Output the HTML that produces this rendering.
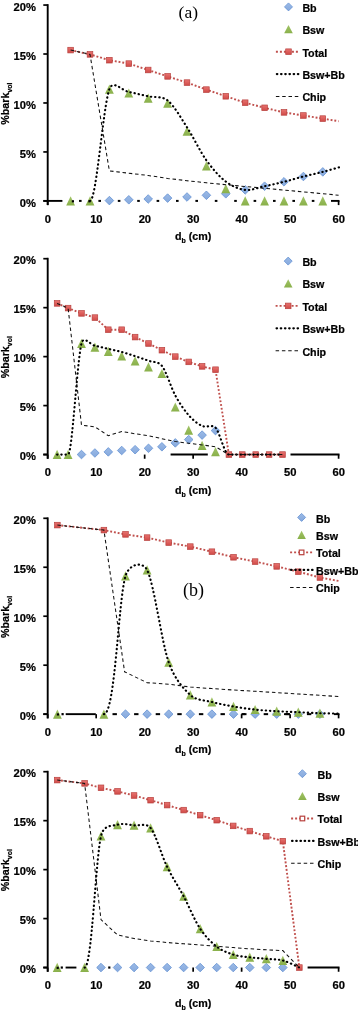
<!DOCTYPE html>
<html><head><meta charset="utf-8"><style>
html,body{margin:0;padding:0;background:#fff;width:358px;height:1010px;overflow:hidden;}
svg{display:block;will-change:transform;}
</style></head><body>
<svg width="358" height="1010" viewBox="0 0 358 1010">
<defs>
<linearGradient id="gS" x1="0" y1="0" x2="0" y2="1"><stop offset="0" stop-color="#E87370"/><stop offset="1" stop-color="#D04A47"/></linearGradient>
<linearGradient id="gT" x1="0" y1="0" x2="0" y2="1"><stop offset="0" stop-color="#A2C468"/><stop offset="1" stop-color="#89B04A"/></linearGradient>
<linearGradient id="gD" x1="0" y1="0" x2="0" y2="1"><stop offset="0" stop-color="#9BBAE6"/><stop offset="1" stop-color="#86A9DD"/></linearGradient>
</defs>
<line x1="43.3" y1="200.9" x2="62.4" y2="200.9" stroke="#000" stroke-width="1.9"/>
<rect x="79" y="199.9" width="2.6" height="2" fill="#000"/>
<rect x="98.4" y="199.9" width="2.6" height="2" fill="#000"/>
<rect x="117.8" y="199.9" width="2.6" height="2" fill="#000"/>
<rect x="137.2" y="199.9" width="2.6" height="2" fill="#000"/>
<rect x="156.6" y="199.9" width="2.6" height="2" fill="#000"/>
<rect x="176" y="199.9" width="2.6" height="2" fill="#000"/>
<rect x="195.4" y="199.9" width="2.6" height="2" fill="#000"/>
<rect x="214.8" y="199.9" width="2.6" height="2" fill="#000"/>
<rect x="234.2" y="199.9" width="2.6" height="2" fill="#000"/>
<rect x="253.6" y="199.9" width="2.6" height="2" fill="#000"/>
<rect x="273" y="199.9" width="2.6" height="2" fill="#000"/>
<rect x="292.4" y="199.9" width="2.6" height="2" fill="#000"/>
<rect x="311.8" y="199.9" width="2.6" height="2" fill="#000"/>
<line x1="331" y1="200.9" x2="339.5" y2="200.9" stroke="#000" stroke-width="1.9"/>
<line x1="47.7" y1="200.9" x2="47.7" y2="205.1" stroke="#000" stroke-width="1.7"/>
<line x1="338.6" y1="200.9" x2="338.6" y2="205.1" stroke="#000" stroke-width="1.7"/>
<path d="M109.4,196.3 L113.7,200.6 L109.4,204.9 L105.1,200.6 Z" fill="url(#gD)" stroke="#6592D3" stroke-width="0.8"/>
<path d="M128.8,195.5 L133.1,199.8 L128.8,204.1 L124.5,199.8 Z" fill="url(#gD)" stroke="#6592D3" stroke-width="0.8"/>
<path d="M148.2,194.7 L152.5,199 L148.2,203.3 L143.9,199 Z" fill="url(#gD)" stroke="#6592D3" stroke-width="0.8"/>
<path d="M167.6,193.8 L171.9,198.1 L167.6,202.4 L163.3,198.1 Z" fill="url(#gD)" stroke="#6592D3" stroke-width="0.8"/>
<path d="M187,192.7 L191.3,197 L187,201.3 L182.7,197 Z" fill="url(#gD)" stroke="#6592D3" stroke-width="0.8"/>
<path d="M206.4,191 L210.7,195.3 L206.4,199.6 L202.1,195.3 Z" fill="url(#gD)" stroke="#6592D3" stroke-width="0.8"/>
<path d="M225.8,189.5 L230.1,193.8 L225.8,198.1 L221.5,193.8 Z" fill="url(#gD)" stroke="#6592D3" stroke-width="0.8"/>
<path d="M245.2,185.6 L249.5,189.9 L245.2,194.2 L240.9,189.9 Z" fill="url(#gD)" stroke="#6592D3" stroke-width="0.8"/>
<path d="M264.6,181.9 L268.9,186.2 L264.6,190.5 L260.3,186.2 Z" fill="url(#gD)" stroke="#6592D3" stroke-width="0.8"/>
<path d="M284,177.5 L288.3,181.8 L284,186.1 L279.7,181.8 Z" fill="url(#gD)" stroke="#6592D3" stroke-width="0.8"/>
<path d="M303.4,172.2 L307.7,176.5 L303.4,180.8 L299.1,176.5 Z" fill="url(#gD)" stroke="#6592D3" stroke-width="0.8"/>
<path d="M322.8,167.6 L327.1,171.9 L322.8,176.2 L318.5,171.9 Z" fill="url(#gD)" stroke="#6592D3" stroke-width="0.8"/>
<path d="M70.6,196.21 L75,205.41 L66.2,205.41 Z" fill="url(#gT)"/>
<path d="M90,196.21 L94.4,205.41 L85.6,205.41 Z" fill="url(#gT)"/>
<path d="M109.4,84.61 L113.8,93.81 L105,93.81 Z" fill="url(#gT)"/>
<path d="M128.8,88.41 L133.2,97.61 L124.4,97.61 Z" fill="url(#gT)"/>
<path d="M148.2,93.51 L152.6,102.71 L143.8,102.71 Z" fill="url(#gT)"/>
<path d="M167.6,98.51 L172,107.71 L163.2,107.71 Z" fill="url(#gT)"/>
<path d="M187,126.51 L191.4,135.71 L182.6,135.71 Z" fill="url(#gT)"/>
<path d="M206.4,161.21 L210.8,170.41 L202,170.41 Z" fill="url(#gT)"/>
<path d="M225.8,184.01 L230.2,193.21 L221.4,193.21 Z" fill="url(#gT)"/>
<path d="M245.2,196.21 L249.6,205.41 L240.8,205.41 Z" fill="url(#gT)"/>
<path d="M264.6,196.21 L269,205.41 L260.2,205.41 Z" fill="url(#gT)"/>
<path d="M284,196.21 L288.4,205.41 L279.6,205.41 Z" fill="url(#gT)"/>
<path d="M303.4,196.21 L307.8,205.41 L299,205.41 Z" fill="url(#gT)"/>
<path d="M322.8,196.21 L327.2,205.41 L318.4,205.41 Z" fill="url(#gT)"/>
<path d="M70.6,50.1 L90,54.4 L109.4,60.2 L128.8,63.6 L148.2,70 L167.6,76.4 L187,82.6 L206.4,89.6 L225.8,96.3 L245.2,102.7 L264.6,107.8 L284,112.4 L303.4,115.5 L322.8,118.6 L338.6,121.2" fill="none" stroke="#C0504D" stroke-width="1.9" stroke-dasharray="1.9,1.9"/>
<rect x="67.8" y="47.3" width="5.6" height="5.6" fill="url(#gS)" stroke="#B8413E" stroke-width="0.7"/>
<rect x="87.2" y="51.6" width="5.6" height="5.6" fill="url(#gS)" stroke="#B8413E" stroke-width="0.7"/>
<rect x="106.6" y="57.4" width="5.6" height="5.6" fill="url(#gS)" stroke="#B8413E" stroke-width="0.7"/>
<rect x="126" y="60.8" width="5.6" height="5.6" fill="url(#gS)" stroke="#B8413E" stroke-width="0.7"/>
<rect x="145.4" y="67.2" width="5.6" height="5.6" fill="url(#gS)" stroke="#B8413E" stroke-width="0.7"/>
<rect x="164.8" y="73.6" width="5.6" height="5.6" fill="url(#gS)" stroke="#B8413E" stroke-width="0.7"/>
<rect x="184.2" y="79.8" width="5.6" height="5.6" fill="url(#gS)" stroke="#B8413E" stroke-width="0.7"/>
<rect x="203.6" y="86.8" width="5.6" height="5.6" fill="url(#gS)" stroke="#B8413E" stroke-width="0.7"/>
<rect x="223" y="93.5" width="5.6" height="5.6" fill="url(#gS)" stroke="#B8413E" stroke-width="0.7"/>
<rect x="242.4" y="99.9" width="5.6" height="5.6" fill="url(#gS)" stroke="#B8413E" stroke-width="0.7"/>
<rect x="261.8" y="105" width="5.6" height="5.6" fill="url(#gS)" stroke="#B8413E" stroke-width="0.7"/>
<rect x="281.2" y="109.6" width="5.6" height="5.6" fill="url(#gS)" stroke="#B8413E" stroke-width="0.7"/>
<rect x="300.6" y="112.7" width="5.6" height="5.6" fill="url(#gS)" stroke="#B8413E" stroke-width="0.7"/>
<rect x="320" y="115.8" width="5.6" height="5.6" fill="url(#gS)" stroke="#B8413E" stroke-width="0.7"/>
<path d="M90,200.9 C96.47,200.9 102.93,107.15 109.4,89 C112.91,79.15 122.35,90.79 128.8,92 C135.27,93.22 141.73,94.9 148.2,96.3 C154.66,97.7 162.01,95.93 167.6,100.4 C174.07,105.57 180.77,117.68 187,127.3 C193.47,137.28 199.93,151.25 206.4,160.3 C212.39,168.69 219.33,176.67 225.8,181.6 C231.75,186.14 238.73,189.13 245.2,189.9 C251.56,190.65 258.15,187.55 264.6,186.2 C271.07,184.85 277.55,183.41 284,181.8 C290.47,180.18 296.93,178.15 303.4,176.5 C309.85,174.85 316.78,173.45 322.8,171.9 C328.6,170.4 336.72,167.98 339.5,167.2" fill="none" stroke="#000" stroke-width="2.15" stroke-linecap="round" stroke-dasharray="0.35,3.85"/>
<path d="M70.6,50.1 L90,54.4 L109.4,170.9 L128.8,173.2 L148.2,175.5 L167.6,178.4 L187,180.7 L206.4,182.8 L225.8,184.7 L245.2,186.5 L264.6,188.3 L284,190.1 L303.4,191.9 L322.8,193.7 L338.6,195.2" fill="none" stroke="#111" stroke-width="1.05" stroke-dasharray="3.5,2.8"/>
<rect x="71.8" y="200.2" width="2.2" height="2.2" fill="#000"/>
<rect x="88.3" y="200.2" width="2.2" height="2.2" fill="#000"/>
<line x1="47.7" y1="4.15" x2="47.7" y2="205.1" stroke="#000" stroke-width="1.9"/>
<line x1="43.3" y1="5.05" x2="47.7" y2="5.05" stroke="#000" stroke-width="1.7"/>
<text x="36" y="10.65" text-anchor="end" font-family="Liberation Sans, sans-serif" font-weight="bold" stroke="#000" stroke-width="0.22" font-size="11.2">20%</text>
<line x1="43.3" y1="54.01" x2="47.7" y2="54.01" stroke="#000" stroke-width="1.7"/>
<text x="36" y="59.61" text-anchor="end" font-family="Liberation Sans, sans-serif" font-weight="bold" stroke="#000" stroke-width="0.22" font-size="11.2">15%</text>
<line x1="43.3" y1="102.97" x2="47.7" y2="102.97" stroke="#000" stroke-width="1.7"/>
<text x="36" y="108.57" text-anchor="end" font-family="Liberation Sans, sans-serif" font-weight="bold" stroke="#000" stroke-width="0.22" font-size="11.2">10%</text>
<line x1="43.3" y1="151.94" x2="47.7" y2="151.94" stroke="#000" stroke-width="1.7"/>
<text x="36" y="157.54" text-anchor="end" font-family="Liberation Sans, sans-serif" font-weight="bold" stroke="#000" stroke-width="0.22" font-size="11.2">5%</text>
<line x1="43.3" y1="200.9" x2="47.7" y2="200.9" stroke="#000" stroke-width="1.7"/>
<text x="36" y="206.5" text-anchor="end" font-family="Liberation Sans, sans-serif" font-weight="bold" stroke="#000" stroke-width="0.22" font-size="11.2">0%</text>
<text x="47.9" y="222.7" text-anchor="middle" font-family="Liberation Sans, sans-serif" font-weight="bold" stroke="#000" stroke-width="0.22" font-size="11.2">0</text>
<text x="96.38" y="222.7" text-anchor="middle" font-family="Liberation Sans, sans-serif" font-weight="bold" stroke="#000" stroke-width="0.22" font-size="11.2">10</text>
<text x="144.87" y="222.7" text-anchor="middle" font-family="Liberation Sans, sans-serif" font-weight="bold" stroke="#000" stroke-width="0.22" font-size="11.2">20</text>
<text x="193.35" y="222.7" text-anchor="middle" font-family="Liberation Sans, sans-serif" font-weight="bold" stroke="#000" stroke-width="0.22" font-size="11.2">30</text>
<text x="241.83" y="222.7" text-anchor="middle" font-family="Liberation Sans, sans-serif" font-weight="bold" stroke="#000" stroke-width="0.22" font-size="11.2">40</text>
<text x="290.32" y="222.7" text-anchor="middle" font-family="Liberation Sans, sans-serif" font-weight="bold" stroke="#000" stroke-width="0.22" font-size="11.2">50</text>
<text x="338.8" y="222.7" text-anchor="middle" font-family="Liberation Sans, sans-serif" font-weight="bold" stroke="#000" stroke-width="0.22" font-size="11.2">60</text>
<text x="175" y="239.9" font-family="Liberation Sans, sans-serif" font-weight="bold" stroke="#000" stroke-width="0.22" font-size="10.7">d<tspan font-size="7" dy="3">b</tspan><tspan dy="-3"> (cm)</tspan></text>
<text transform="translate(8.7,103.57) rotate(-90)" text-anchor="middle" font-family="Liberation Sans, sans-serif" font-weight="bold" stroke="#000" stroke-width="0.22" font-size="10.7">%bark<tspan font-size="7" dy="3.2">vol</tspan></text>
<path d="M288.5,2.9 L292.5,6.9 L288.5,10.9 L284.5,6.9 Z" fill="url(#gD)" stroke="#6592D3" stroke-width="0.8"/>
<path d="M288.5,25.12 L292.8,33.32 L284.2,33.32 Z" fill="url(#gT)"/>
<line x1="275.9" y1="51.7" x2="298.3" y2="51.7" stroke="#C0504D" stroke-width="1.9" stroke-dasharray="2,2"/>
<rect x="285.7" y="48.9" width="5.6" height="5.6" fill="url(#gS)" stroke="#B8413E" stroke-width="0.7"/>
<line x1="276.9" y1="74.1" x2="298.3" y2="74.1" stroke="#000" stroke-width="2.3" stroke-linecap="round" stroke-dasharray="0.4,3.8"/>
<line x1="275.9" y1="96.5" x2="298.3" y2="96.5" stroke="#111" stroke-width="1.05" stroke-dasharray="3.5,2.8"/>
<text x="302.4" y="12.1" font-family="Liberation Sans, sans-serif" font-weight="bold" stroke="#000" stroke-width="0.22" font-size="10.7">Bb</text>
<text x="302.4" y="34.1" font-family="Liberation Sans, sans-serif" font-weight="bold" stroke="#000" stroke-width="0.22" font-size="10.7">Bsw</text>
<text x="302.4" y="56.5" font-family="Liberation Sans, sans-serif" font-weight="bold" stroke="#000" stroke-width="0.22" font-size="10.7">Total</text>
<text x="302.4" y="78.9" font-family="Liberation Sans, sans-serif" font-weight="bold" stroke="#000" stroke-width="0.22" font-size="10.7">Bsw+Bb</text>
<text x="302.4" y="101.3" font-family="Liberation Sans, sans-serif" font-weight="bold" stroke="#000" stroke-width="0.22" font-size="10.7">Chip</text>
<text x="178.6" y="17.7" font-family="Liberation Serif, serif" font-size="17.5">(a)</text>
<line x1="43.3" y1="454.55" x2="47.7" y2="454.55" stroke="#000" stroke-width="1.9"/>
<line x1="170.6" y1="454.55" x2="207.8" y2="454.55" stroke="#000" stroke-width="1.9"/>
<line x1="290.5" y1="454.55" x2="339.5" y2="454.55" stroke="#000" stroke-width="1.9"/>
<line x1="47.7" y1="454.55" x2="47.7" y2="458.75" stroke="#000" stroke-width="1.7"/>
<line x1="144.67" y1="454.55" x2="144.67" y2="458.75" stroke="#000" stroke-width="1.7"/>
<line x1="193.15" y1="454.55" x2="193.15" y2="458.75" stroke="#000" stroke-width="1.7"/>
<line x1="338.6" y1="454.55" x2="338.6" y2="458.75" stroke="#000" stroke-width="1.7"/>
<path d="M81.5,450.25 L85.8,454.55 L81.5,458.85 L77.2,454.55 Z" fill="url(#gD)" stroke="#6592D3" stroke-width="0.8"/>
<path d="M94.9,448.7 L99.2,453 L94.9,457.3 L90.6,453 Z" fill="url(#gD)" stroke="#6592D3" stroke-width="0.8"/>
<path d="M108.3,447.6 L112.6,451.9 L108.3,456.2 L104,451.9 Z" fill="url(#gD)" stroke="#6592D3" stroke-width="0.8"/>
<path d="M121.7,446.2 L126,450.5 L121.7,454.8 L117.4,450.5 Z" fill="url(#gD)" stroke="#6592D3" stroke-width="0.8"/>
<path d="M135.1,445.4 L139.4,449.7 L135.1,454 L130.8,449.7 Z" fill="url(#gD)" stroke="#6592D3" stroke-width="0.8"/>
<path d="M148.5,444 L152.8,448.3 L148.5,452.6 L144.2,448.3 Z" fill="url(#gD)" stroke="#6592D3" stroke-width="0.8"/>
<path d="M161.9,442.5 L166.2,446.8 L161.9,451.1 L157.6,446.8 Z" fill="url(#gD)" stroke="#6592D3" stroke-width="0.8"/>
<path d="M175.3,438.6 L179.6,442.9 L175.3,447.2 L171,442.9 Z" fill="url(#gD)" stroke="#6592D3" stroke-width="0.8"/>
<path d="M188.7,435.3 L193,439.6 L188.7,443.9 L184.4,439.6 Z" fill="url(#gD)" stroke="#6592D3" stroke-width="0.8"/>
<path d="M202.1,430.8 L206.4,435.1 L202.1,439.4 L197.8,435.1 Z" fill="url(#gD)" stroke="#6592D3" stroke-width="0.8"/>
<path d="M215.5,426.3 L219.8,430.6 L215.5,434.9 L211.2,430.6 Z" fill="url(#gD)" stroke="#6592D3" stroke-width="0.8"/>
<path d="M57.1,449.86 L61.5,459.06 L52.7,459.06 Z" fill="url(#gT)"/>
<path d="M68.1,449.86 L72.5,459.06 L63.7,459.06 Z" fill="url(#gT)"/>
<path d="M81.5,338.71 L85.9,347.91 L77.1,347.91 Z" fill="url(#gT)"/>
<path d="M94.9,342.61 L99.3,351.81 L90.5,351.81 Z" fill="url(#gT)"/>
<path d="M108.3,346.81 L112.7,356.01 L103.9,356.01 Z" fill="url(#gT)"/>
<path d="M121.7,351.31 L126.1,360.51 L117.3,360.51 Z" fill="url(#gT)"/>
<path d="M135.1,356.31 L139.5,365.51 L130.7,365.51 Z" fill="url(#gT)"/>
<path d="M148.5,362.31 L152.9,371.51 L144.1,371.51 Z" fill="url(#gT)"/>
<path d="M161.9,368.91 L166.3,378.11 L157.5,378.11 Z" fill="url(#gT)"/>
<path d="M175.3,402.41 L179.7,411.61 L170.9,411.61 Z" fill="url(#gT)"/>
<path d="M188.7,425.51 L193.1,434.71 L184.3,434.71 Z" fill="url(#gT)"/>
<path d="M202.1,440.71 L206.5,449.91 L197.7,449.91 Z" fill="url(#gT)"/>
<path d="M215.5,447.01 L219.9,456.21 L211.1,456.21 Z" fill="url(#gT)"/>
<path d="M57.1,303.4 L68.1,308.1 L81.5,313.4 L94.9,317.6 L108.3,329.7 L121.7,329.7 L135.1,337.1 L148.5,343.5 L161.9,350.2 L175.3,356.6 L188.7,361.9 L202.1,366.4 L215.5,369.7 L228.9,454.55 L242.3,454.55 L255.7,454.55 L269.1,454.55 L282.5,454.55" fill="none" stroke="#C0504D" stroke-width="1.9" stroke-dasharray="1.9,1.9"/>
<rect x="54.3" y="300.6" width="5.6" height="5.6" fill="url(#gS)" stroke="#B8413E" stroke-width="0.7"/>
<rect x="65.3" y="305.3" width="5.6" height="5.6" fill="url(#gS)" stroke="#B8413E" stroke-width="0.7"/>
<rect x="78.7" y="310.6" width="5.6" height="5.6" fill="url(#gS)" stroke="#B8413E" stroke-width="0.7"/>
<rect x="92.1" y="314.8" width="5.6" height="5.6" fill="url(#gS)" stroke="#B8413E" stroke-width="0.7"/>
<rect x="105.5" y="326.9" width="5.6" height="5.6" fill="url(#gS)" stroke="#B8413E" stroke-width="0.7"/>
<rect x="118.9" y="326.9" width="5.6" height="5.6" fill="url(#gS)" stroke="#B8413E" stroke-width="0.7"/>
<rect x="132.3" y="334.3" width="5.6" height="5.6" fill="url(#gS)" stroke="#B8413E" stroke-width="0.7"/>
<rect x="145.7" y="340.7" width="5.6" height="5.6" fill="url(#gS)" stroke="#B8413E" stroke-width="0.7"/>
<rect x="159.1" y="347.4" width="5.6" height="5.6" fill="url(#gS)" stroke="#B8413E" stroke-width="0.7"/>
<rect x="172.5" y="353.8" width="5.6" height="5.6" fill="url(#gS)" stroke="#B8413E" stroke-width="0.7"/>
<rect x="185.9" y="359.1" width="5.6" height="5.6" fill="url(#gS)" stroke="#B8413E" stroke-width="0.7"/>
<rect x="199.3" y="363.6" width="5.6" height="5.6" fill="url(#gS)" stroke="#B8413E" stroke-width="0.7"/>
<rect x="212.7" y="366.9" width="5.6" height="5.6" fill="url(#gS)" stroke="#B8413E" stroke-width="0.7"/>
<rect x="226.1" y="451.75" width="5.6" height="5.6" fill="url(#gS)" stroke="#B8413E" stroke-width="0.7"/>
<rect x="239.5" y="451.75" width="5.6" height="5.6" fill="url(#gS)" stroke="#B8413E" stroke-width="0.7"/>
<rect x="252.9" y="451.75" width="5.6" height="5.6" fill="url(#gS)" stroke="#B8413E" stroke-width="0.7"/>
<rect x="266.3" y="451.75" width="5.6" height="5.6" fill="url(#gS)" stroke="#B8413E" stroke-width="0.7"/>
<rect x="279.7" y="451.75" width="5.6" height="5.6" fill="url(#gS)" stroke="#B8413E" stroke-width="0.7"/>
<path d="M57.1,454.55 L68.1,454.55 C72.17,454.55 77.03,361.53 81.5,343.4 C83.58,334.96 90.45,344.84 94.9,345.75 C99.37,346.66 103.83,347.82 108.3,348.85 C112.77,349.88 117.26,350.74 121.7,351.95 C126.17,353.17 130.64,354.69 135.1,356.15 C139.57,357.62 144.05,359.14 148.5,360.75 C152.97,362.37 158.4,361.32 161.9,365.85 C166.37,371.63 170.83,387.22 175.3,395.45 C179.41,403.03 184.23,410.17 188.7,415.25 C192.78,419.9 197.63,423.87 202.1,425.95 C206.29,427.91 211.98,423.99 215.5,427.75 C219.97,432.52 224.43,454.55 228.9,454.55 L242.3,454.55 L255.7,454.55 L269.1,454.55 L282.5,454.55" fill="none" stroke="#000" stroke-width="2.15" stroke-linecap="round" stroke-dasharray="0.35,3.85"/>
<path d="M57.1,303.4 L68.1,308.1 L81.5,425.1 L94.9,426.8 L108.3,435.7 L121.7,431.5 L135.1,433.8 L148.5,435.7 L161.9,438.7 L175.3,441.5 L188.7,443.3 L202.1,444.9 L215.5,446.8 L228.9,454.55 L242.3,454.55 L255.7,454.55 L269.1,454.55 L282.5,454.55" fill="none" stroke="#111" stroke-width="1.05" stroke-dasharray="3.5,2.8"/>
<line x1="47.7" y1="257.8" x2="47.7" y2="458.75" stroke="#000" stroke-width="1.9"/>
<line x1="43.3" y1="258.7" x2="47.7" y2="258.7" stroke="#000" stroke-width="1.7"/>
<text x="36" y="264.3" text-anchor="end" font-family="Liberation Sans, sans-serif" font-weight="bold" stroke="#000" stroke-width="0.22" font-size="11.2">20%</text>
<line x1="43.3" y1="307.66" x2="47.7" y2="307.66" stroke="#000" stroke-width="1.7"/>
<text x="36" y="313.26" text-anchor="end" font-family="Liberation Sans, sans-serif" font-weight="bold" stroke="#000" stroke-width="0.22" font-size="11.2">15%</text>
<line x1="43.3" y1="356.62" x2="47.7" y2="356.62" stroke="#000" stroke-width="1.7"/>
<text x="36" y="362.23" text-anchor="end" font-family="Liberation Sans, sans-serif" font-weight="bold" stroke="#000" stroke-width="0.22" font-size="11.2">10%</text>
<line x1="43.3" y1="405.59" x2="47.7" y2="405.59" stroke="#000" stroke-width="1.7"/>
<text x="36" y="411.19" text-anchor="end" font-family="Liberation Sans, sans-serif" font-weight="bold" stroke="#000" stroke-width="0.22" font-size="11.2">5%</text>
<line x1="43.3" y1="454.55" x2="47.7" y2="454.55" stroke="#000" stroke-width="1.7"/>
<text x="36" y="460.15" text-anchor="end" font-family="Liberation Sans, sans-serif" font-weight="bold" stroke="#000" stroke-width="0.22" font-size="11.2">0%</text>
<text x="47.9" y="476.35" text-anchor="middle" font-family="Liberation Sans, sans-serif" font-weight="bold" stroke="#000" stroke-width="0.22" font-size="11.2">0</text>
<text x="96.38" y="476.35" text-anchor="middle" font-family="Liberation Sans, sans-serif" font-weight="bold" stroke="#000" stroke-width="0.22" font-size="11.2">10</text>
<text x="144.87" y="476.35" text-anchor="middle" font-family="Liberation Sans, sans-serif" font-weight="bold" stroke="#000" stroke-width="0.22" font-size="11.2">20</text>
<text x="193.35" y="476.35" text-anchor="middle" font-family="Liberation Sans, sans-serif" font-weight="bold" stroke="#000" stroke-width="0.22" font-size="11.2">30</text>
<text x="241.83" y="476.35" text-anchor="middle" font-family="Liberation Sans, sans-serif" font-weight="bold" stroke="#000" stroke-width="0.22" font-size="11.2">40</text>
<text x="290.32" y="476.35" text-anchor="middle" font-family="Liberation Sans, sans-serif" font-weight="bold" stroke="#000" stroke-width="0.22" font-size="11.2">50</text>
<text x="338.8" y="476.35" text-anchor="middle" font-family="Liberation Sans, sans-serif" font-weight="bold" stroke="#000" stroke-width="0.22" font-size="11.2">60</text>
<text x="175" y="493.55" font-family="Liberation Sans, sans-serif" font-weight="bold" stroke="#000" stroke-width="0.22" font-size="10.7">d<tspan font-size="7" dy="3">b</tspan><tspan dy="-3"> (cm)</tspan></text>
<text transform="translate(8.7,357.23) rotate(-90)" text-anchor="middle" font-family="Liberation Sans, sans-serif" font-weight="bold" stroke="#000" stroke-width="0.22" font-size="10.7">%bark<tspan font-size="7" dy="3.2">vol</tspan></text>
<path d="M288.2,257.1 L292.2,261.1 L288.2,265.1 L284.2,261.1 Z" fill="url(#gD)" stroke="#6592D3" stroke-width="0.8"/>
<path d="M288.2,279.32 L292.5,287.52 L283.9,287.52 Z" fill="url(#gT)"/>
<line x1="275.6" y1="305.9" x2="298" y2="305.9" stroke="#C0504D" stroke-width="1.9" stroke-dasharray="2,2"/>
<rect x="285.4" y="303.1" width="5.6" height="5.6" fill="url(#gS)" stroke="#B8413E" stroke-width="0.7"/>
<line x1="276.6" y1="328.3" x2="298" y2="328.3" stroke="#000" stroke-width="2.3" stroke-linecap="round" stroke-dasharray="0.4,3.8"/>
<line x1="275.6" y1="350.7" x2="298" y2="350.7" stroke="#111" stroke-width="1.05" stroke-dasharray="3.5,2.8"/>
<text x="302.4" y="266.3" font-family="Liberation Sans, sans-serif" font-weight="bold" stroke="#000" stroke-width="0.22" font-size="10.7">Bb</text>
<text x="302.4" y="288.3" font-family="Liberation Sans, sans-serif" font-weight="bold" stroke="#000" stroke-width="0.22" font-size="10.7">Bsw</text>
<text x="302.4" y="310.7" font-family="Liberation Sans, sans-serif" font-weight="bold" stroke="#000" stroke-width="0.22" font-size="10.7">Total</text>
<text x="302.4" y="333.1" font-family="Liberation Sans, sans-serif" font-weight="bold" stroke="#000" stroke-width="0.22" font-size="10.7">Bsw+Bb</text>
<text x="302.4" y="355.5" font-family="Liberation Sans, sans-serif" font-weight="bold" stroke="#000" stroke-width="0.22" font-size="10.7">Chip</text>
<line x1="43.3" y1="714.15" x2="47.7" y2="714.15" stroke="#000" stroke-width="1.9"/>
<rect x="61.5" y="713.05" width="2.2" height="2.2" fill="#000"/>
<line x1="65.7" y1="714.15" x2="95.8" y2="714.15" stroke="#000" stroke-width="1.9"/>
<rect x="112.5" y="713.15" width="4.4" height="2" fill="#000"/>
<rect x="134.1" y="713.15" width="4.4" height="2" fill="#000"/>
<rect x="155.7" y="713.15" width="4.4" height="2" fill="#000"/>
<rect x="177.3" y="713.15" width="4.4" height="2" fill="#000"/>
<rect x="198.9" y="713.15" width="4.4" height="2" fill="#000"/>
<rect x="220.5" y="713.15" width="4.4" height="2" fill="#000"/>
<rect x="242.1" y="713.15" width="4.4" height="2" fill="#000"/>
<rect x="263.7" y="713.15" width="4.4" height="2" fill="#000"/>
<rect x="285.3" y="713.15" width="4.4" height="2" fill="#000"/>
<rect x="306.9" y="713.15" width="4.4" height="2" fill="#000"/>
<line x1="241.4" y1="714.15" x2="245" y2="714.15" stroke="#000" stroke-width="1.9"/>
<line x1="284" y1="714.15" x2="289.9" y2="714.15" stroke="#000" stroke-width="1.9"/>
<line x1="334" y1="714.15" x2="339.5" y2="714.15" stroke="#000" stroke-width="1.9"/>
<line x1="47.7" y1="714.15" x2="47.7" y2="718.35" stroke="#000" stroke-width="1.7"/>
<line x1="96.18" y1="714.15" x2="96.18" y2="718.35" stroke="#000" stroke-width="1.7"/>
<line x1="241.63" y1="714.15" x2="241.63" y2="718.35" stroke="#000" stroke-width="1.7"/>
<line x1="290.12" y1="714.15" x2="290.12" y2="718.35" stroke="#000" stroke-width="1.7"/>
<line x1="338.6" y1="714.15" x2="338.6" y2="718.35" stroke="#000" stroke-width="1.7"/>
<path d="M125.5,709.85 L129.8,714.15 L125.5,718.45 L121.2,714.15 Z" fill="url(#gD)" stroke="#6592D3" stroke-width="0.8"/>
<path d="M147.1,709.85 L151.4,714.15 L147.1,718.45 L142.8,714.15 Z" fill="url(#gD)" stroke="#6592D3" stroke-width="0.8"/>
<path d="M168.7,709.85 L173,714.15 L168.7,718.45 L164.4,714.15 Z" fill="url(#gD)" stroke="#6592D3" stroke-width="0.8"/>
<path d="M190.3,709.85 L194.6,714.15 L190.3,718.45 L186,714.15 Z" fill="url(#gD)" stroke="#6592D3" stroke-width="0.8"/>
<path d="M211.9,709.85 L216.2,714.15 L211.9,718.45 L207.6,714.15 Z" fill="url(#gD)" stroke="#6592D3" stroke-width="0.8"/>
<path d="M233.5,709.85 L237.8,714.15 L233.5,718.45 L229.2,714.15 Z" fill="url(#gD)" stroke="#6592D3" stroke-width="0.8"/>
<path d="M255.1,709.85 L259.4,714.15 L255.1,718.45 L250.8,714.15 Z" fill="url(#gD)" stroke="#6592D3" stroke-width="0.8"/>
<path d="M276.7,709.85 L281,714.15 L276.7,718.45 L272.4,714.15 Z" fill="url(#gD)" stroke="#6592D3" stroke-width="0.8"/>
<path d="M298.3,709.85 L302.6,714.15 L298.3,718.45 L294,714.15 Z" fill="url(#gD)" stroke="#6592D3" stroke-width="0.8"/>
<path d="M319.9,709.85 L324.2,714.15 L319.9,718.45 L315.6,714.15 Z" fill="url(#gD)" stroke="#6592D3" stroke-width="0.8"/>
<path d="M57.4,709.46 L61.8,718.66 L53,718.66 Z" fill="url(#gT)"/>
<path d="M103.9,709.46 L108.3,718.66 L99.5,718.66 Z" fill="url(#gT)"/>
<path d="M125.5,571.31 L129.9,580.51 L121.1,580.51 Z" fill="url(#gT)"/>
<path d="M147.1,565.31 L151.5,574.51 L142.7,574.51 Z" fill="url(#gT)"/>
<path d="M168.7,657.61 L173.1,666.81 L164.3,666.81 Z" fill="url(#gT)"/>
<path d="M190.3,690.31 L194.7,699.51 L185.9,699.51 Z" fill="url(#gT)"/>
<path d="M211.9,697.31 L216.3,706.51 L207.5,706.51 Z" fill="url(#gT)"/>
<path d="M233.5,701.81 L237.9,711.01 L229.1,711.01 Z" fill="url(#gT)"/>
<path d="M255.1,704.91 L259.5,714.11 L250.7,714.11 Z" fill="url(#gT)"/>
<path d="M276.7,706.51 L281.1,715.71 L272.3,715.71 Z" fill="url(#gT)"/>
<path d="M298.3,707.51 L302.7,716.71 L293.9,716.71 Z" fill="url(#gT)"/>
<path d="M319.9,708.51 L324.3,717.71 L315.5,717.71 Z" fill="url(#gT)"/>
<path d="M57.4,525.1 L103.9,530.1 L125.5,534.4 L147.1,537.6 L168.7,542.6 L190.3,546.6 L211.9,551.7 L233.5,557.3 L255.1,561.6 L276.7,566.4 L298.3,571.7 L319.9,577.5 L339.5,581.1" fill="none" stroke="#C0504D" stroke-width="1.9" stroke-dasharray="1.9,1.9"/>
<rect x="54.6" y="522.3" width="5.6" height="5.6" fill="url(#gS)" stroke="#B8413E" stroke-width="0.7"/>
<rect x="101.1" y="527.3" width="5.6" height="5.6" fill="url(#gS)" stroke="#B8413E" stroke-width="0.7"/>
<rect x="122.7" y="531.6" width="5.6" height="5.6" fill="url(#gS)" stroke="#B8413E" stroke-width="0.7"/>
<rect x="144.3" y="534.8" width="5.6" height="5.6" fill="url(#gS)" stroke="#B8413E" stroke-width="0.7"/>
<rect x="165.9" y="539.8" width="5.6" height="5.6" fill="url(#gS)" stroke="#B8413E" stroke-width="0.7"/>
<rect x="187.5" y="543.8" width="5.6" height="5.6" fill="url(#gS)" stroke="#B8413E" stroke-width="0.7"/>
<rect x="209.1" y="548.9" width="5.6" height="5.6" fill="url(#gS)" stroke="#B8413E" stroke-width="0.7"/>
<rect x="230.7" y="554.5" width="5.6" height="5.6" fill="url(#gS)" stroke="#B8413E" stroke-width="0.7"/>
<rect x="252.3" y="558.8" width="5.6" height="5.6" fill="url(#gS)" stroke="#B8413E" stroke-width="0.7"/>
<rect x="273.9" y="563.6" width="5.6" height="5.6" fill="url(#gS)" stroke="#B8413E" stroke-width="0.7"/>
<rect x="295.5" y="568.9" width="5.6" height="5.6" fill="url(#gS)" stroke="#B8413E" stroke-width="0.7"/>
<rect x="317.1" y="574.7" width="5.6" height="5.6" fill="url(#gS)" stroke="#B8413E" stroke-width="0.7"/>
<path d="M103.9,714.15 C115.25,714.15 118.3,600.03 125.5,576 C129.28,563.37 142.65,561.1 147.1,570 C154.3,584.38 161.5,641.47 168.7,662.3 C174.21,678.23 183.1,688.38 190.3,695 C196.47,700.67 204.7,700.08 211.9,702 C219.05,703.9 226.3,705.23 233.5,706.5 C240.68,707.76 247.9,708.82 255.1,709.6 C262.29,710.38 269.5,710.77 276.7,711.2 C283.9,711.63 291.1,711.87 298.3,712.2 C305.5,712.53 313.03,712.97 319.9,713.2 C326.6,713.43 336.23,713.53 339.5,713.6" fill="none" stroke="#000" stroke-width="2.15" stroke-linecap="round" stroke-dasharray="0.35,3.85"/>
<path d="M57.4,525.1 L103.9,530.1 L124.6,671.8 L147.1,682.7 L168.7,684.2 L190.3,687 L211.9,688.6 L233.5,690 L255.1,691.3 L276.7,692.6 L298.3,694 L319.9,695.3 L339.5,696.6" fill="none" stroke="#111" stroke-width="1.05" stroke-dasharray="3.5,2.8"/>
<rect x="56.8" y="713.35" width="2.2" height="2.2" fill="#000"/>
<line x1="47.7" y1="517.4" x2="47.7" y2="718.35" stroke="#000" stroke-width="1.9"/>
<line x1="43.3" y1="518.3" x2="47.7" y2="518.3" stroke="#000" stroke-width="1.7"/>
<text x="36" y="523.9" text-anchor="end" font-family="Liberation Sans, sans-serif" font-weight="bold" stroke="#000" stroke-width="0.22" font-size="11.2">20%</text>
<line x1="43.3" y1="567.26" x2="47.7" y2="567.26" stroke="#000" stroke-width="1.7"/>
<text x="36" y="572.86" text-anchor="end" font-family="Liberation Sans, sans-serif" font-weight="bold" stroke="#000" stroke-width="0.22" font-size="11.2">15%</text>
<line x1="43.3" y1="616.22" x2="47.7" y2="616.22" stroke="#000" stroke-width="1.7"/>
<text x="36" y="621.82" text-anchor="end" font-family="Liberation Sans, sans-serif" font-weight="bold" stroke="#000" stroke-width="0.22" font-size="11.2">10%</text>
<line x1="43.3" y1="665.19" x2="47.7" y2="665.19" stroke="#000" stroke-width="1.7"/>
<text x="36" y="670.79" text-anchor="end" font-family="Liberation Sans, sans-serif" font-weight="bold" stroke="#000" stroke-width="0.22" font-size="11.2">5%</text>
<line x1="43.3" y1="714.15" x2="47.7" y2="714.15" stroke="#000" stroke-width="1.7"/>
<text x="36" y="719.75" text-anchor="end" font-family="Liberation Sans, sans-serif" font-weight="bold" stroke="#000" stroke-width="0.22" font-size="11.2">0%</text>
<text x="47.9" y="735.95" text-anchor="middle" font-family="Liberation Sans, sans-serif" font-weight="bold" stroke="#000" stroke-width="0.22" font-size="11.2">0</text>
<text x="96.38" y="735.95" text-anchor="middle" font-family="Liberation Sans, sans-serif" font-weight="bold" stroke="#000" stroke-width="0.22" font-size="11.2">10</text>
<text x="144.87" y="735.95" text-anchor="middle" font-family="Liberation Sans, sans-serif" font-weight="bold" stroke="#000" stroke-width="0.22" font-size="11.2">20</text>
<text x="193.35" y="735.95" text-anchor="middle" font-family="Liberation Sans, sans-serif" font-weight="bold" stroke="#000" stroke-width="0.22" font-size="11.2">30</text>
<text x="241.83" y="735.95" text-anchor="middle" font-family="Liberation Sans, sans-serif" font-weight="bold" stroke="#000" stroke-width="0.22" font-size="11.2">40</text>
<text x="290.32" y="735.95" text-anchor="middle" font-family="Liberation Sans, sans-serif" font-weight="bold" stroke="#000" stroke-width="0.22" font-size="11.2">50</text>
<text x="338.8" y="735.95" text-anchor="middle" font-family="Liberation Sans, sans-serif" font-weight="bold" stroke="#000" stroke-width="0.22" font-size="11.2">60</text>
<text x="175" y="753.15" font-family="Liberation Sans, sans-serif" font-weight="bold" stroke="#000" stroke-width="0.22" font-size="10.7">d<tspan font-size="7" dy="3">b</tspan><tspan dy="-3"> (cm)</tspan></text>
<text transform="translate(8.7,616.82) rotate(-90)" text-anchor="middle" font-family="Liberation Sans, sans-serif" font-weight="bold" stroke="#000" stroke-width="0.22" font-size="10.7">%bark<tspan font-size="7" dy="3.2">vol</tspan></text>
<path d="M301.6,513.4 L305.6,517.4 L301.6,521.4 L297.6,517.4 Z" fill="url(#gD)" stroke="#6592D3" stroke-width="0.8"/>
<path d="M301.6,530.72 L305.9,538.92 L297.3,538.92 Z" fill="url(#gT)"/>
<line x1="290.1" y1="552.4" x2="312.6" y2="552.4" stroke="#C0504D" stroke-width="1.9" stroke-dasharray="2,2"/>
<rect x="299.3" y="550.1" width="4.6" height="4.6" fill="#fff" stroke="#B8413E" stroke-width="1.2"/>
<line x1="291.1" y1="569.9" x2="312.6" y2="569.9" stroke="#000" stroke-width="2.3" stroke-linecap="round" stroke-dasharray="0.4,3.8"/>
<line x1="290.1" y1="587.4" x2="312.6" y2="587.4" stroke="#111" stroke-width="1.05" stroke-dasharray="3.5,2.8"/>
<text x="316.1" y="522.6" font-family="Liberation Sans, sans-serif" font-weight="bold" stroke="#000" stroke-width="0.22" font-size="10.7">Bb</text>
<text x="316.1" y="539.7" font-family="Liberation Sans, sans-serif" font-weight="bold" stroke="#000" stroke-width="0.22" font-size="10.7">Bsw</text>
<text x="316.1" y="557.2" font-family="Liberation Sans, sans-serif" font-weight="bold" stroke="#000" stroke-width="0.22" font-size="10.7">Total</text>
<text x="316.1" y="574.7" font-family="Liberation Sans, sans-serif" font-weight="bold" stroke="#000" stroke-width="0.22" font-size="10.7">Bsw+Bb</text>
<text x="316.1" y="592.2" font-family="Liberation Sans, sans-serif" font-weight="bold" stroke="#000" stroke-width="0.22" font-size="10.7">Chip</text>
<text x="183" y="595.7" font-family="Liberation Serif, serif" font-size="18">(b)</text>
<line x1="43.3" y1="967.55" x2="47.7" y2="967.55" stroke="#000" stroke-width="1.9"/>
<rect x="60.7" y="966.45" width="2.2" height="2.2" fill="#000"/>
<line x1="65.6" y1="967.55" x2="76.4" y2="967.55" stroke="#000" stroke-width="1.9"/>
<rect x="108.2" y="966.45" width="2.2" height="2.2" fill="#000"/>
<line x1="307.6" y1="967.55" x2="339.5" y2="967.55" stroke="#000" stroke-width="1.9"/>
<line x1="47.7" y1="967.55" x2="47.7" y2="971.75" stroke="#000" stroke-width="1.7"/>
<line x1="193.15" y1="967.55" x2="193.15" y2="971.75" stroke="#000" stroke-width="1.7"/>
<line x1="241.63" y1="967.55" x2="241.63" y2="971.75" stroke="#000" stroke-width="1.7"/>
<line x1="338.6" y1="967.55" x2="338.6" y2="971.75" stroke="#000" stroke-width="1.7"/>
<path d="M101,963.25 L105.3,967.55 L101,971.85 L96.7,967.55 Z" fill="url(#gD)" stroke="#6592D3" stroke-width="0.8"/>
<path d="M117.53,963.25 L121.83,967.55 L117.53,971.85 L113.23,967.55 Z" fill="url(#gD)" stroke="#6592D3" stroke-width="0.8"/>
<path d="M134.06,963.25 L138.36,967.55 L134.06,971.85 L129.76,967.55 Z" fill="url(#gD)" stroke="#6592D3" stroke-width="0.8"/>
<path d="M150.59,963.25 L154.89,967.55 L150.59,971.85 L146.29,967.55 Z" fill="url(#gD)" stroke="#6592D3" stroke-width="0.8"/>
<path d="M167.12,963.25 L171.42,967.55 L167.12,971.85 L162.82,967.55 Z" fill="url(#gD)" stroke="#6592D3" stroke-width="0.8"/>
<path d="M183.65,963.25 L187.95,967.55 L183.65,971.85 L179.35,967.55 Z" fill="url(#gD)" stroke="#6592D3" stroke-width="0.8"/>
<path d="M200.18,963.25 L204.48,967.55 L200.18,971.85 L195.88,967.55 Z" fill="url(#gD)" stroke="#6592D3" stroke-width="0.8"/>
<path d="M216.71,963.25 L221.01,967.55 L216.71,971.85 L212.41,967.55 Z" fill="url(#gD)" stroke="#6592D3" stroke-width="0.8"/>
<path d="M233.24,963.25 L237.54,967.55 L233.24,971.85 L228.94,967.55 Z" fill="url(#gD)" stroke="#6592D3" stroke-width="0.8"/>
<path d="M249.77,963.25 L254.07,967.55 L249.77,971.85 L245.47,967.55 Z" fill="url(#gD)" stroke="#6592D3" stroke-width="0.8"/>
<path d="M266.3,963.25 L270.6,967.55 L266.3,971.85 L262,967.55 Z" fill="url(#gD)" stroke="#6592D3" stroke-width="0.8"/>
<path d="M282.83,963.25 L287.13,967.55 L282.83,971.85 L278.53,967.55 Z" fill="url(#gD)" stroke="#6592D3" stroke-width="0.8"/>
<path d="M57.2,962.86 L61.6,972.06 L52.8,972.06 Z" fill="url(#gT)"/>
<path d="M84.6,962.86 L89,972.06 L80.2,972.06 Z" fill="url(#gT)"/>
<path d="M101,831.41 L105.4,840.61 L96.6,840.61 Z" fill="url(#gT)"/>
<path d="M117.53,820.01 L121.93,829.21 L113.13,829.21 Z" fill="url(#gT)"/>
<path d="M134.06,820.61 L138.46,829.81 L129.66,829.81 Z" fill="url(#gT)"/>
<path d="M150.59,823.31 L154.99,832.51 L146.19,832.51 Z" fill="url(#gT)"/>
<path d="M167.12,862.11 L171.52,871.31 L162.72,871.31 Z" fill="url(#gT)"/>
<path d="M183.65,891.61 L188.05,900.81 L179.25,900.81 Z" fill="url(#gT)"/>
<path d="M200.18,924.11 L204.58,933.31 L195.78,933.31 Z" fill="url(#gT)"/>
<path d="M216.71,941.91 L221.11,951.11 L212.31,951.11 Z" fill="url(#gT)"/>
<path d="M233.24,949.91 L237.64,959.11 L228.84,959.11 Z" fill="url(#gT)"/>
<path d="M249.77,952.61 L254.17,961.81 L245.37,961.81 Z" fill="url(#gT)"/>
<path d="M266.3,954.11 L270.7,963.31 L261.9,963.31 Z" fill="url(#gT)"/>
<path d="M282.83,955.81 L287.23,965.01 L278.43,965.01 Z" fill="url(#gT)"/>
<path d="M57.2,780.1 L84.6,783.4 L101,787.8 L117.53,791.4 L134.06,795.5 L150.59,800.2 L167.12,805.1 L183.65,810.1 L200.18,815.2 L216.71,820.2 L233.24,825.9 L249.77,831.1 L266.3,836.3 L282.83,841.2 L299.36,967.55" fill="none" stroke="#C0504D" stroke-width="1.9" stroke-dasharray="1.9,1.9"/>
<rect x="54.4" y="777.3" width="5.6" height="5.6" fill="url(#gS)" stroke="#B8413E" stroke-width="0.7"/>
<rect x="81.8" y="780.6" width="5.6" height="5.6" fill="url(#gS)" stroke="#B8413E" stroke-width="0.7"/>
<rect x="98.2" y="785" width="5.6" height="5.6" fill="url(#gS)" stroke="#B8413E" stroke-width="0.7"/>
<rect x="114.73" y="788.6" width="5.6" height="5.6" fill="url(#gS)" stroke="#B8413E" stroke-width="0.7"/>
<rect x="131.26" y="792.7" width="5.6" height="5.6" fill="url(#gS)" stroke="#B8413E" stroke-width="0.7"/>
<rect x="147.79" y="797.4" width="5.6" height="5.6" fill="url(#gS)" stroke="#B8413E" stroke-width="0.7"/>
<rect x="164.32" y="802.3" width="5.6" height="5.6" fill="url(#gS)" stroke="#B8413E" stroke-width="0.7"/>
<rect x="180.85" y="807.3" width="5.6" height="5.6" fill="url(#gS)" stroke="#B8413E" stroke-width="0.7"/>
<rect x="197.38" y="812.4" width="5.6" height="5.6" fill="url(#gS)" stroke="#B8413E" stroke-width="0.7"/>
<rect x="213.91" y="817.4" width="5.6" height="5.6" fill="url(#gS)" stroke="#B8413E" stroke-width="0.7"/>
<rect x="230.44" y="823.1" width="5.6" height="5.6" fill="url(#gS)" stroke="#B8413E" stroke-width="0.7"/>
<rect x="246.97" y="828.3" width="5.6" height="5.6" fill="url(#gS)" stroke="#B8413E" stroke-width="0.7"/>
<rect x="263.5" y="833.5" width="5.6" height="5.6" fill="url(#gS)" stroke="#B8413E" stroke-width="0.7"/>
<rect x="280.03" y="838.4" width="5.6" height="5.6" fill="url(#gS)" stroke="#B8413E" stroke-width="0.7"/>
<rect x="296.56" y="964.75" width="5.6" height="5.6" fill="url(#gS)" stroke="#B8413E" stroke-width="0.7"/>
<path d="M84.6,967.55 C91.9,967.55 95.51,859.91 101,836.1 C103.82,823.88 112.02,826.5 117.53,824.7 C122.77,822.99 128.57,824.75 134.06,825.3 C139.57,825.85 146.44,822.78 150.59,828 C156.1,834.92 161.61,855.42 167.12,866.8 C172.32,877.54 178.24,886.16 183.65,896.3 C189.16,906.63 194.67,920.42 200.18,928.8 C205.11,936.3 211.2,942.3 216.71,946.6 C221.82,950.59 227.73,952.82 233.24,954.6 C238.62,956.34 244.26,956.6 249.77,957.3 C255.27,958 260.79,958.27 266.3,958.8 C271.81,959.33 277.43,959.07 282.83,960.5 C288.34,961.96 296.61,966.38 299.36,967.55" fill="none" stroke="#000" stroke-width="2.15" stroke-linecap="round" stroke-dasharray="0.35,3.85"/>
<path d="M57.2,780.1 L84.6,783.4 L101,919.6 L117.53,935 L134.06,938.5 L150.59,941 L167.12,942.5 L183.65,943.8 L200.18,945 L216.71,946.3 L233.24,947.6 L249.77,948.8 L266.3,949.8 L282.83,950.6 L299.36,967.55" fill="none" stroke="#111" stroke-width="1.05" stroke-dasharray="3.5,2.8"/>
<rect x="56.6" y="966.75" width="2.2" height="2.2" fill="#000"/>
<line x1="47.7" y1="770.8" x2="47.7" y2="971.75" stroke="#000" stroke-width="1.9"/>
<line x1="43.3" y1="771.7" x2="47.7" y2="771.7" stroke="#000" stroke-width="1.7"/>
<text x="36" y="777.3" text-anchor="end" font-family="Liberation Sans, sans-serif" font-weight="bold" stroke="#000" stroke-width="0.22" font-size="11.2">20%</text>
<line x1="43.3" y1="820.66" x2="47.7" y2="820.66" stroke="#000" stroke-width="1.7"/>
<text x="36" y="826.26" text-anchor="end" font-family="Liberation Sans, sans-serif" font-weight="bold" stroke="#000" stroke-width="0.22" font-size="11.2">15%</text>
<line x1="43.3" y1="869.62" x2="47.7" y2="869.62" stroke="#000" stroke-width="1.7"/>
<text x="36" y="875.23" text-anchor="end" font-family="Liberation Sans, sans-serif" font-weight="bold" stroke="#000" stroke-width="0.22" font-size="11.2">10%</text>
<line x1="43.3" y1="918.59" x2="47.7" y2="918.59" stroke="#000" stroke-width="1.7"/>
<text x="36" y="924.19" text-anchor="end" font-family="Liberation Sans, sans-serif" font-weight="bold" stroke="#000" stroke-width="0.22" font-size="11.2">5%</text>
<line x1="43.3" y1="967.55" x2="47.7" y2="967.55" stroke="#000" stroke-width="1.7"/>
<text x="36" y="973.15" text-anchor="end" font-family="Liberation Sans, sans-serif" font-weight="bold" stroke="#000" stroke-width="0.22" font-size="11.2">0%</text>
<text x="47.9" y="989.35" text-anchor="middle" font-family="Liberation Sans, sans-serif" font-weight="bold" stroke="#000" stroke-width="0.22" font-size="11.2">0</text>
<text x="96.38" y="989.35" text-anchor="middle" font-family="Liberation Sans, sans-serif" font-weight="bold" stroke="#000" stroke-width="0.22" font-size="11.2">10</text>
<text x="144.87" y="989.35" text-anchor="middle" font-family="Liberation Sans, sans-serif" font-weight="bold" stroke="#000" stroke-width="0.22" font-size="11.2">20</text>
<text x="193.35" y="989.35" text-anchor="middle" font-family="Liberation Sans, sans-serif" font-weight="bold" stroke="#000" stroke-width="0.22" font-size="11.2">30</text>
<text x="241.83" y="989.35" text-anchor="middle" font-family="Liberation Sans, sans-serif" font-weight="bold" stroke="#000" stroke-width="0.22" font-size="11.2">40</text>
<text x="290.32" y="989.35" text-anchor="middle" font-family="Liberation Sans, sans-serif" font-weight="bold" stroke="#000" stroke-width="0.22" font-size="11.2">50</text>
<text x="338.8" y="989.35" text-anchor="middle" font-family="Liberation Sans, sans-serif" font-weight="bold" stroke="#000" stroke-width="0.22" font-size="11.2">60</text>
<text x="175" y="1006.55" font-family="Liberation Sans, sans-serif" font-weight="bold" stroke="#000" stroke-width="0.22" font-size="10.7">d<tspan font-size="7" dy="3">b</tspan><tspan dy="-3"> (cm)</tspan></text>
<text transform="translate(8.7,870.23) rotate(-90)" text-anchor="middle" font-family="Liberation Sans, sans-serif" font-weight="bold" stroke="#000" stroke-width="0.22" font-size="10.7">%bark<tspan font-size="7" dy="3.2">vol</tspan></text>
<path d="M302.4,769.7 L306.4,773.7 L302.4,777.7 L298.4,773.7 Z" fill="url(#gD)" stroke="#6592D3" stroke-width="0.8"/>
<path d="M302.4,791.92 L306.7,800.12 L298.1,800.12 Z" fill="url(#gT)"/>
<line x1="291.1" y1="818.5" x2="314.2" y2="818.5" stroke="#C0504D" stroke-width="1.9" stroke-dasharray="2,2"/>
<rect x="300.1" y="816.2" width="4.6" height="4.6" fill="#fff" stroke="#B8413E" stroke-width="1.2"/>
<line x1="292.1" y1="840.9" x2="314.2" y2="840.9" stroke="#000" stroke-width="2.3" stroke-linecap="round" stroke-dasharray="0.4,3.8"/>
<line x1="291.1" y1="863.3" x2="314.2" y2="863.3" stroke="#111" stroke-width="1.05" stroke-dasharray="3.5,2.8"/>
<text x="317.5" y="778.9" font-family="Liberation Sans, sans-serif" font-weight="bold" stroke="#000" stroke-width="0.22" font-size="10.7">Bb</text>
<text x="317.5" y="800.9" font-family="Liberation Sans, sans-serif" font-weight="bold" stroke="#000" stroke-width="0.22" font-size="10.7">Bsw</text>
<text x="317.5" y="823.3" font-family="Liberation Sans, sans-serif" font-weight="bold" stroke="#000" stroke-width="0.22" font-size="10.7">Total</text>
<text x="317.5" y="845.7" font-family="Liberation Sans, sans-serif" font-weight="bold" stroke="#000" stroke-width="0.22" font-size="10.7">Bsw+Bb</text>
<text x="317.5" y="868.1" font-family="Liberation Sans, sans-serif" font-weight="bold" stroke="#000" stroke-width="0.22" font-size="10.7">Chip</text>
</svg>
</body></html>
